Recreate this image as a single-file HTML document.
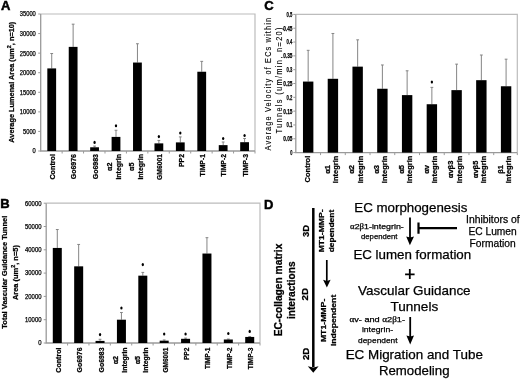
<!DOCTYPE html>
<html><head><meta charset="utf-8"><style>
html,body{margin:0;padding:0;background:#fff;width:520px;height:379px;overflow:hidden}
svg{display:block;font-family:"Liberation Sans",sans-serif;filter:grayscale(1)}
text{stroke:#000;stroke-width:0.25px}
</style></head><body>
<svg width="520" height="379" viewBox="0 0 520 379">
<rect width="520" height="379" fill="#fff"/>
<text x="1.1" y="10.4" font-size="13" font-weight="bold" text-anchor="start" fill="#000" style="stroke-width:0.5px">A</text>
<text x="0.2" y="208.4" font-size="13" font-weight="bold" text-anchor="start" fill="#000" style="stroke-width:0.5px">B</text>
<text x="264.3" y="10.2" font-size="13" font-weight="bold" text-anchor="start" fill="#000" style="stroke-width:0.5px">C</text>
<text x="263.9" y="208.6" font-size="13" font-weight="bold" text-anchor="start" fill="#000" style="stroke-width:0.5px">D</text>
<path d="M40.7 14H255V151" fill="none" stroke="#bcbcbc" stroke-width="1.2"/>
<path d="M40.7 14V151H255" fill="none" stroke="#9a9a9a" stroke-width="1.3"/>
<path d="M38.2 151H40.7" stroke="#9a9a9a" stroke-width="1"/>
<text x="35.8" y="153.38" font-size="6.6" font-weight="normal" text-anchor="end" fill="#000" textLength="3.2" lengthAdjust="spacingAndGlyphs">0</text>
<path d="M38.2 131.43H40.7" stroke="#9a9a9a" stroke-width="1"/>
<text x="35.8" y="133.8" font-size="6.6" font-weight="normal" text-anchor="end" fill="#000" textLength="12.8" lengthAdjust="spacingAndGlyphs">5000</text>
<path d="M38.2 111.86H40.7" stroke="#9a9a9a" stroke-width="1"/>
<text x="35.8" y="114.23" font-size="6.6" font-weight="normal" text-anchor="end" fill="#000" textLength="16" lengthAdjust="spacingAndGlyphs">10000</text>
<path d="M38.2 92.29H40.7" stroke="#9a9a9a" stroke-width="1"/>
<text x="35.8" y="94.66" font-size="6.6" font-weight="normal" text-anchor="end" fill="#000" textLength="16" lengthAdjust="spacingAndGlyphs">15000</text>
<path d="M38.2 72.71H40.7" stroke="#9a9a9a" stroke-width="1"/>
<text x="35.8" y="75.09" font-size="6.6" font-weight="normal" text-anchor="end" fill="#000" textLength="16" lengthAdjust="spacingAndGlyphs">20000</text>
<path d="M38.2 53.14H40.7" stroke="#9a9a9a" stroke-width="1"/>
<text x="35.8" y="55.52" font-size="6.6" font-weight="normal" text-anchor="end" fill="#000" textLength="16" lengthAdjust="spacingAndGlyphs">25000</text>
<path d="M38.2 33.57H40.7" stroke="#9a9a9a" stroke-width="1"/>
<text x="35.8" y="35.95" font-size="6.6" font-weight="normal" text-anchor="end" fill="#000" textLength="16" lengthAdjust="spacingAndGlyphs">30000</text>
<path d="M38.2 14H40.7" stroke="#9a9a9a" stroke-width="1"/>
<text x="35.8" y="16.38" font-size="6.6" font-weight="normal" text-anchor="end" fill="#000" textLength="16" lengthAdjust="spacingAndGlyphs">35000</text>
<path d="M62.13 151V153.5" stroke="#9a9a9a" stroke-width="1"/>
<path d="M83.56 151V153.5" stroke="#9a9a9a" stroke-width="1"/>
<path d="M104.99 151V153.5" stroke="#9a9a9a" stroke-width="1"/>
<path d="M126.42 151V153.5" stroke="#9a9a9a" stroke-width="1"/>
<path d="M147.85 151V153.5" stroke="#9a9a9a" stroke-width="1"/>
<path d="M169.28 151V153.5" stroke="#9a9a9a" stroke-width="1"/>
<path d="M190.71 151V153.5" stroke="#9a9a9a" stroke-width="1"/>
<path d="M212.14 151V153.5" stroke="#9a9a9a" stroke-width="1"/>
<path d="M233.57 151V153.5" stroke="#9a9a9a" stroke-width="1"/>
<path d="M255 151V153.5" stroke="#9a9a9a" stroke-width="1"/>
<path d="M51.72 68.41V53.53M50.32 53.53H53.12" stroke="#858585" stroke-width="1"/>
<rect x="47.32" y="68.41" width="8.8" height="82.59" fill="#000"/>
<path d="M73.14 46.88V24.18M71.74 24.18H74.55" stroke="#858585" stroke-width="1"/>
<rect x="68.74" y="46.88" width="8.8" height="104.12" fill="#000"/>
<path d="M94.58 147.28V146.11M93.17 146.11H95.98" stroke="#858585" stroke-width="1"/>
<rect x="90.17" y="147.28" width="8.8" height="3.72" fill="#000"/>
<path d="M116 136.91V130.25M114.6 130.25H117.41" stroke="#858585" stroke-width="1"/>
<rect x="111.6" y="136.91" width="8.8" height="14.09" fill="#000"/>
<path d="M137.44 62.54V43.75M136.03 43.75H138.84" stroke="#858585" stroke-width="1"/>
<rect x="133.03" y="62.54" width="8.8" height="88.46" fill="#000"/>
<path d="M158.87 143.37V140.43M157.47 140.43H160.27" stroke="#858585" stroke-width="1"/>
<rect x="154.47" y="143.37" width="8.8" height="7.63" fill="#000"/>
<path d="M180.3 142.39V136.91M178.9 136.91H181.7" stroke="#858585" stroke-width="1"/>
<rect x="175.9" y="142.39" width="8.8" height="8.61" fill="#000"/>
<path d="M201.73 71.74V61.36M200.33 61.36H203.13" stroke="#858585" stroke-width="1"/>
<rect x="197.33" y="71.74" width="8.8" height="79.26" fill="#000"/>
<path d="M223.16 145.13V142M221.76 142H224.56" stroke="#858585" stroke-width="1"/>
<rect x="218.76" y="145.13" width="8.8" height="5.87" fill="#000"/>
<path d="M244.59 142.19V138.47M243.19 138.47H245.99" stroke="#858585" stroke-width="1"/>
<rect x="240.19" y="142.19" width="8.8" height="8.81" fill="#000"/>
<ellipse cx="94.58" cy="142.4" rx="1.15" ry="1.55" fill="#000"/>
<ellipse cx="116" cy="125.8" rx="1.15" ry="1.55" fill="#000"/>
<ellipse cx="158.87" cy="136.6" rx="1.15" ry="1.55" fill="#000"/>
<ellipse cx="180.3" cy="133" rx="1.15" ry="1.55" fill="#000"/>
<ellipse cx="223.16" cy="138.5" rx="1.15" ry="1.55" fill="#000"/>
<ellipse cx="244.59" cy="135.5" rx="1.15" ry="1.55" fill="#000"/>
<text x="54.92" y="166.8" font-size="7.2" font-weight="bold" text-anchor="middle" fill="#000" transform="rotate(-90 54.92 166.8)">Control</text>
<text x="76.34" y="166.65" font-size="7.2" font-weight="bold" text-anchor="middle" fill="#000" transform="rotate(-90 76.34 166.65)" textLength="25.3" lengthAdjust="spacingAndGlyphs">Go6976</text>
<text x="97.78" y="166.65" font-size="7.2" font-weight="bold" text-anchor="middle" fill="#000" transform="rotate(-90 97.78 166.65)" textLength="25.3" lengthAdjust="spacingAndGlyphs">Go6983</text>
<text x="112.5" y="166.8" font-size="7.2" font-weight="bold" text-anchor="middle" fill="#000" transform="rotate(-90 112.5 166.8)">&#945;2</text>
<text x="121.1" y="166.8" font-size="7.2" font-weight="bold" text-anchor="middle" fill="#000" transform="rotate(-90 121.1 166.8)" textLength="25.6" lengthAdjust="spacingAndGlyphs">integrin</text>
<text x="133.93" y="166.8" font-size="7.2" font-weight="bold" text-anchor="middle" fill="#000" transform="rotate(-90 133.93 166.8)">&#945;5</text>
<text x="142.53" y="166.8" font-size="7.2" font-weight="bold" text-anchor="middle" fill="#000" transform="rotate(-90 142.53 166.8)" textLength="25.6" lengthAdjust="spacingAndGlyphs">integrin</text>
<text x="162.06" y="166.95" font-size="7.2" font-weight="bold" text-anchor="middle" fill="#000" transform="rotate(-90 162.06 166.95)" textLength="25.9" lengthAdjust="spacingAndGlyphs">GM6001</text>
<text x="183.5" y="160.5" font-size="7.2" font-weight="bold" text-anchor="middle" fill="#000" transform="rotate(-90 183.5 160.5)" textLength="13" lengthAdjust="spacingAndGlyphs">PP2</text>
<text x="204.93" y="165.2" font-size="7.2" font-weight="bold" text-anchor="middle" fill="#000" transform="rotate(-90 204.93 165.2)" textLength="22.4" lengthAdjust="spacingAndGlyphs">TIMP-1</text>
<text x="226.36" y="165.2" font-size="7.2" font-weight="bold" text-anchor="middle" fill="#000" transform="rotate(-90 226.36 165.2)" textLength="22.4" lengthAdjust="spacingAndGlyphs">TIMP-2</text>
<text x="247.79" y="165.3" font-size="7.2" font-weight="bold" text-anchor="middle" fill="#000" transform="rotate(-90 247.79 165.3)" textLength="22.6" lengthAdjust="spacingAndGlyphs">TIMP-3</text>
<text transform="translate(14.2 82.2) rotate(-90)" font-size="7.5" font-weight="bold" text-anchor="middle" textLength="121" lengthAdjust="spacingAndGlyphs">Average Lumenal Area (um<tspan font-size="5.5" dy="-3">2</tspan><tspan dy="3">, n=10)</tspan></text>
<path d="M46.2 203.2H260V343" fill="none" stroke="#bcbcbc" stroke-width="1.2"/>
<path d="M46.2 203.2V343H260" fill="none" stroke="#9a9a9a" stroke-width="1.3"/>
<path d="M43.7 343H46.2" stroke="#9a9a9a" stroke-width="1"/>
<text x="41.5" y="345.38" font-size="6.6" font-weight="normal" text-anchor="end" fill="#000" textLength="3.3" lengthAdjust="spacingAndGlyphs">0</text>
<path d="M43.7 319.7H46.2" stroke="#9a9a9a" stroke-width="1"/>
<text x="41.5" y="322.08" font-size="6.6" font-weight="normal" text-anchor="end" fill="#000" textLength="16.5" lengthAdjust="spacingAndGlyphs">10000</text>
<path d="M43.7 296.4H46.2" stroke="#9a9a9a" stroke-width="1"/>
<text x="41.5" y="298.78" font-size="6.6" font-weight="normal" text-anchor="end" fill="#000" textLength="16.5" lengthAdjust="spacingAndGlyphs">20000</text>
<path d="M43.7 273.1H46.2" stroke="#9a9a9a" stroke-width="1"/>
<text x="41.5" y="275.48" font-size="6.6" font-weight="normal" text-anchor="end" fill="#000" textLength="16.5" lengthAdjust="spacingAndGlyphs">30000</text>
<path d="M43.7 249.8H46.2" stroke="#9a9a9a" stroke-width="1"/>
<text x="41.5" y="252.18" font-size="6.6" font-weight="normal" text-anchor="end" fill="#000" textLength="16.5" lengthAdjust="spacingAndGlyphs">40000</text>
<path d="M43.7 226.5H46.2" stroke="#9a9a9a" stroke-width="1"/>
<text x="41.5" y="228.88" font-size="6.6" font-weight="normal" text-anchor="end" fill="#000" textLength="16.5" lengthAdjust="spacingAndGlyphs">50000</text>
<path d="M43.7 203.2H46.2" stroke="#9a9a9a" stroke-width="1"/>
<text x="41.5" y="205.58" font-size="6.6" font-weight="normal" text-anchor="end" fill="#000" textLength="16.5" lengthAdjust="spacingAndGlyphs">60000</text>
<path d="M67.58 343V345.5" stroke="#9a9a9a" stroke-width="1"/>
<path d="M88.96 343V345.5" stroke="#9a9a9a" stroke-width="1"/>
<path d="M110.34 343V345.5" stroke="#9a9a9a" stroke-width="1"/>
<path d="M131.72 343V345.5" stroke="#9a9a9a" stroke-width="1"/>
<path d="M153.1 343V345.5" stroke="#9a9a9a" stroke-width="1"/>
<path d="M174.48 343V345.5" stroke="#9a9a9a" stroke-width="1"/>
<path d="M195.86 343V345.5" stroke="#9a9a9a" stroke-width="1"/>
<path d="M217.24 343V345.5" stroke="#9a9a9a" stroke-width="1"/>
<path d="M238.62 343V345.5" stroke="#9a9a9a" stroke-width="1"/>
<path d="M260 343V345.5" stroke="#9a9a9a" stroke-width="1"/>
<path d="M57.29 247.94V229.53M55.89 229.53H58.69" stroke="#858585" stroke-width="1"/>
<rect x="52.79" y="247.94" width="9" height="95.06" fill="#000"/>
<path d="M78.67 266.34V244.44M77.27 244.44H80.07" stroke="#858585" stroke-width="1"/>
<rect x="74.17" y="266.34" width="9" height="76.66" fill="#000"/>
<path d="M100.05 340.9V339.27M98.65 339.27H101.45" stroke="#858585" stroke-width="1"/>
<rect x="95.55" y="340.9" width="9" height="2.1" fill="#000"/>
<path d="M121.43 319.7V312.48M120.03 312.48H122.83" stroke="#858585" stroke-width="1"/>
<rect x="116.93" y="319.7" width="9" height="23.3" fill="#000"/>
<path d="M142.81 275.66V272.4M141.41 272.4H144.21" stroke="#858585" stroke-width="1"/>
<rect x="138.31" y="275.66" width="9" height="67.34" fill="#000"/>
<path d="M164.19 340.67V339.97M162.79 339.97H165.59" stroke="#858585" stroke-width="1"/>
<rect x="159.69" y="340.67" width="9" height="2.33" fill="#000"/>
<path d="M185.57 338.81V338.11M184.17 338.11H186.97" stroke="#858585" stroke-width="1"/>
<rect x="181.07" y="338.81" width="9" height="4.19" fill="#000"/>
<path d="M206.95 253.53V237.68M205.55 237.68H208.35" stroke="#858585" stroke-width="1"/>
<rect x="202.45" y="253.53" width="9" height="89.47" fill="#000"/>
<path d="M228.33 339.5V339.04M226.93 339.04H229.73" stroke="#858585" stroke-width="1"/>
<rect x="223.83" y="339.5" width="9" height="3.5" fill="#000"/>
<path d="M249.71 336.94V336.48M248.31 336.48H251.11" stroke="#858585" stroke-width="1"/>
<rect x="245.21" y="336.94" width="9" height="6.06" fill="#000"/>
<ellipse cx="100.05" cy="334.6" rx="1.15" ry="1.55" fill="#000"/>
<ellipse cx="121.43" cy="308" rx="1.15" ry="1.55" fill="#000"/>
<ellipse cx="142.81" cy="264.6" rx="1.15" ry="1.55" fill="#000"/>
<ellipse cx="164.19" cy="334" rx="1.15" ry="1.55" fill="#000"/>
<ellipse cx="185.57" cy="334" rx="1.15" ry="1.55" fill="#000"/>
<ellipse cx="228.33" cy="333.5" rx="1.15" ry="1.55" fill="#000"/>
<ellipse cx="249.71" cy="331.4" rx="1.15" ry="1.55" fill="#000"/>
<text x="60.79" y="360.1" font-size="7.2" font-weight="bold" text-anchor="middle" fill="#000" transform="rotate(-90 60.79 360.1)" textLength="25.2" lengthAdjust="spacingAndGlyphs">Control</text>
<text x="82.17" y="359.95" font-size="7.2" font-weight="bold" text-anchor="middle" fill="#000" transform="rotate(-90 82.17 359.95)" textLength="24.9" lengthAdjust="spacingAndGlyphs">Go6976</text>
<text x="103.55" y="359.95" font-size="7.2" font-weight="bold" text-anchor="middle" fill="#000" transform="rotate(-90 103.55 359.95)" textLength="24.9" lengthAdjust="spacingAndGlyphs">Go6983</text>
<text x="118.38" y="360.1" font-size="7.2" font-weight="bold" text-anchor="middle" fill="#000" transform="rotate(-90 118.38 360.1)">&#945;2</text>
<text x="126.58" y="360.1" font-size="7.2" font-weight="bold" text-anchor="middle" fill="#000" transform="rotate(-90 126.58 360.1)" textLength="25.2" lengthAdjust="spacingAndGlyphs">integrin</text>
<text x="139.76" y="360.1" font-size="7.2" font-weight="bold" text-anchor="middle" fill="#000" transform="rotate(-90 139.76 360.1)">&#945;5</text>
<text x="147.96" y="360.1" font-size="7.2" font-weight="bold" text-anchor="middle" fill="#000" transform="rotate(-90 147.96 360.1)" textLength="25.2" lengthAdjust="spacingAndGlyphs">integrin</text>
<text x="167.69" y="360" font-size="7.2" font-weight="bold" text-anchor="middle" fill="#000" transform="rotate(-90 167.69 360)" textLength="25" lengthAdjust="spacingAndGlyphs">GM6001</text>
<text x="189.07" y="353.8" font-size="7.2" font-weight="bold" text-anchor="middle" fill="#000" transform="rotate(-90 189.07 353.8)" textLength="12.6" lengthAdjust="spacingAndGlyphs">PP2</text>
<text x="210.45" y="358.3" font-size="7.2" font-weight="bold" text-anchor="middle" fill="#000" transform="rotate(-90 210.45 358.3)" textLength="21.6" lengthAdjust="spacingAndGlyphs">TIMP-1</text>
<text x="231.83" y="358.3" font-size="7.2" font-weight="bold" text-anchor="middle" fill="#000" transform="rotate(-90 231.83 358.3)" textLength="21.6" lengthAdjust="spacingAndGlyphs">TIMP-2</text>
<text x="253.21" y="358.4" font-size="7.2" font-weight="bold" text-anchor="middle" fill="#000" transform="rotate(-90 253.21 358.4)" textLength="21.8" lengthAdjust="spacingAndGlyphs">TIMP-3</text>
<text transform="translate(6.6 272.2) rotate(-90)" font-size="7.6" font-weight="bold" text-anchor="middle" textLength="113" lengthAdjust="spacingAndGlyphs">Total Vascular Guidance Tunnel</text>
<text transform="translate(18.0 272.6) rotate(-90)" font-size="7.6" font-weight="bold" text-anchor="middle" textLength="55" lengthAdjust="spacingAndGlyphs">Area (um<tspan font-size="5.5" dy="-3">2</tspan><tspan dy="3">, n=5)</tspan></text>
<path d="M295.8 14.4H517.3V152.6" fill="none" stroke="#bcbcbc" stroke-width="1.2"/>
<path d="M295.8 14.4V152.6H517.3" fill="none" stroke="#9a9a9a" stroke-width="1.3"/>
<path d="M293.3 152.6H295.8" stroke="#9a9a9a" stroke-width="1"/>
<text x="292.4" y="155.05" font-size="6.8" font-weight="bold" text-anchor="end" fill="#000" textLength="2.2" lengthAdjust="spacingAndGlyphs">0</text>
<path d="M293.3 138.78H295.8" stroke="#9a9a9a" stroke-width="1"/>
<text x="292.4" y="141.23" font-size="6.8" font-weight="bold" text-anchor="end" fill="#000" textLength="9.2" lengthAdjust="spacingAndGlyphs">0.05</text>
<path d="M293.3 124.96H295.8" stroke="#9a9a9a" stroke-width="1"/>
<text x="292.4" y="127.41" font-size="6.8" font-weight="bold" text-anchor="end" fill="#000" textLength="5.8" lengthAdjust="spacingAndGlyphs">0.1</text>
<path d="M293.3 111.14H295.8" stroke="#9a9a9a" stroke-width="1"/>
<text x="292.4" y="113.59" font-size="6.8" font-weight="bold" text-anchor="end" fill="#000" textLength="9.2" lengthAdjust="spacingAndGlyphs">0.15</text>
<path d="M293.3 97.32H295.8" stroke="#9a9a9a" stroke-width="1"/>
<text x="292.4" y="99.77" font-size="6.8" font-weight="bold" text-anchor="end" fill="#000" textLength="5.8" lengthAdjust="spacingAndGlyphs">0.2</text>
<path d="M293.3 83.5H295.8" stroke="#9a9a9a" stroke-width="1"/>
<text x="292.4" y="85.95" font-size="6.8" font-weight="bold" text-anchor="end" fill="#000" textLength="9.2" lengthAdjust="spacingAndGlyphs">0.25</text>
<path d="M293.3 69.68H295.8" stroke="#9a9a9a" stroke-width="1"/>
<text x="292.4" y="72.13" font-size="6.8" font-weight="bold" text-anchor="end" fill="#000" textLength="5.8" lengthAdjust="spacingAndGlyphs">0.3</text>
<path d="M293.3 55.86H295.8" stroke="#9a9a9a" stroke-width="1"/>
<text x="292.4" y="58.31" font-size="6.8" font-weight="bold" text-anchor="end" fill="#000" textLength="9.2" lengthAdjust="spacingAndGlyphs">0.35</text>
<path d="M293.3 42.04H295.8" stroke="#9a9a9a" stroke-width="1"/>
<text x="292.4" y="44.49" font-size="6.8" font-weight="bold" text-anchor="end" fill="#000" textLength="5.8" lengthAdjust="spacingAndGlyphs">0.4</text>
<path d="M293.3 28.22H295.8" stroke="#9a9a9a" stroke-width="1"/>
<text x="292.4" y="30.67" font-size="6.8" font-weight="bold" text-anchor="end" fill="#000" textLength="9.2" lengthAdjust="spacingAndGlyphs">0.45</text>
<path d="M293.3 14.4H295.8" stroke="#9a9a9a" stroke-width="1"/>
<text x="292.4" y="16.85" font-size="6.8" font-weight="bold" text-anchor="end" fill="#000" textLength="5.8" lengthAdjust="spacingAndGlyphs">0.5</text>
<path d="M320.54 152.6V155.1" stroke="#9a9a9a" stroke-width="1"/>
<path d="M345.28 152.6V155.1" stroke="#9a9a9a" stroke-width="1"/>
<path d="M370.02 152.6V155.1" stroke="#9a9a9a" stroke-width="1"/>
<path d="M394.76 152.6V155.1" stroke="#9a9a9a" stroke-width="1"/>
<path d="M419.5 152.6V155.1" stroke="#9a9a9a" stroke-width="1"/>
<path d="M444.24 152.6V155.1" stroke="#9a9a9a" stroke-width="1"/>
<path d="M468.98 152.6V155.1" stroke="#9a9a9a" stroke-width="1"/>
<path d="M493.72 152.6V155.1" stroke="#9a9a9a" stroke-width="1"/>
<path d="M517.3 152.6V155.1" stroke="#9a9a9a" stroke-width="1"/>
<path d="M308.17 81.57V50.33M306.77 50.33H309.57" stroke="#858585" stroke-width="1"/>
<rect x="302.97" y="81.57" width="10.4" height="71.03" fill="#000"/>
<path d="M332.91 78.8V33.47M331.51 33.47H334.31" stroke="#858585" stroke-width="1"/>
<rect x="327.71" y="78.8" width="10.4" height="73.8" fill="#000"/>
<path d="M357.65 66.64V39.83M356.25 39.83H359.05" stroke="#858585" stroke-width="1"/>
<rect x="352.45" y="66.64" width="10.4" height="85.96" fill="#000"/>
<path d="M382.39 88.75V64.98M380.99 64.98H383.79" stroke="#858585" stroke-width="1"/>
<rect x="377.19" y="88.75" width="10.4" height="63.85" fill="#000"/>
<path d="M407.13 95.11V70.79M405.73 70.79H408.53" stroke="#858585" stroke-width="1"/>
<rect x="401.93" y="95.11" width="10.4" height="57.49" fill="#000"/>
<path d="M431.87 104.23V87.37M430.47 87.37H433.27" stroke="#858585" stroke-width="1"/>
<rect x="426.67" y="104.23" width="10.4" height="48.37" fill="#000"/>
<path d="M456.61 90.13V64.15M455.21 64.15H458.01" stroke="#858585" stroke-width="1"/>
<rect x="451.41" y="90.13" width="10.4" height="62.47" fill="#000"/>
<path d="M481.35 80.18V55.03M479.95 55.03H482.75" stroke="#858585" stroke-width="1"/>
<rect x="476.15" y="80.18" width="10.4" height="72.42" fill="#000"/>
<path d="M506.09 86.26V59.18M504.69 59.18H507.49" stroke="#858585" stroke-width="1"/>
<rect x="500.89" y="86.26" width="10.4" height="66.34" fill="#000"/>
<ellipse cx="431.87" cy="82" rx="1.15" ry="1.55" fill="#000"/>
<text x="310.27" y="169.03" font-size="7.5" font-weight="bold" text-anchor="middle" fill="#000" transform="rotate(-90 310.27 169.03)">Control</text>
<text x="329.76" y="169.45" font-size="7.5" font-weight="bold" text-anchor="middle" fill="#000" transform="rotate(-90 329.76 169.45)">&#945;1</text>
<text x="337.96" y="169.45" font-size="7.5" font-weight="bold" text-anchor="middle" fill="#000" transform="rotate(-90 337.96 169.45)">integrin</text>
<text x="354.5" y="169.45" font-size="7.5" font-weight="bold" text-anchor="middle" fill="#000" transform="rotate(-90 354.5 169.45)">&#945;2</text>
<text x="362.7" y="169.45" font-size="7.5" font-weight="bold" text-anchor="middle" fill="#000" transform="rotate(-90 362.7 169.45)">integrin</text>
<text x="379.24" y="169.45" font-size="7.5" font-weight="bold" text-anchor="middle" fill="#000" transform="rotate(-90 379.24 169.45)">&#945;3</text>
<text x="387.44" y="169.45" font-size="7.5" font-weight="bold" text-anchor="middle" fill="#000" transform="rotate(-90 387.44 169.45)">integrin</text>
<text x="403.98" y="169.45" font-size="7.5" font-weight="bold" text-anchor="middle" fill="#000" transform="rotate(-90 403.98 169.45)">&#945;5</text>
<text x="412.18" y="169.45" font-size="7.5" font-weight="bold" text-anchor="middle" fill="#000" transform="rotate(-90 412.18 169.45)">integrin</text>
<text x="428.72" y="169.45" font-size="7.5" font-weight="bold" text-anchor="middle" fill="#000" transform="rotate(-90 428.72 169.45)">&#945;v</text>
<text x="436.92" y="169.45" font-size="7.5" font-weight="bold" text-anchor="middle" fill="#000" transform="rotate(-90 436.92 169.45)">integrin</text>
<text x="453.46" y="169.45" font-size="7.5" font-weight="bold" text-anchor="middle" fill="#000" transform="rotate(-90 453.46 169.45)">&#945;v&#946;3</text>
<text x="461.66" y="169.45" font-size="7.5" font-weight="bold" text-anchor="middle" fill="#000" transform="rotate(-90 461.66 169.45)">integrin</text>
<text x="478.2" y="169.45" font-size="7.5" font-weight="bold" text-anchor="middle" fill="#000" transform="rotate(-90 478.2 169.45)">&#945;v&#946;5</text>
<text x="486.4" y="169.45" font-size="7.5" font-weight="bold" text-anchor="middle" fill="#000" transform="rotate(-90 486.4 169.45)">integrin</text>
<text x="502.94" y="169.45" font-size="7.5" font-weight="bold" text-anchor="middle" fill="#000" transform="rotate(-90 502.94 169.45)">&#946;1</text>
<text x="511.14" y="169.45" font-size="7.5" font-weight="bold" text-anchor="middle" fill="#000" transform="rotate(-90 511.14 169.45)">integrin</text>
<text transform="translate(271.4 84.2) rotate(-90) scale(0.82 1)" font-size="9" text-anchor="middle" textLength="161.7" lengthAdjust="spacing" style="stroke-width:0.1px">Average Velocity of ECs within</text>
<text transform="translate(281.6 80.5) rotate(-90) scale(0.82 1)" font-size="9" text-anchor="middle" textLength="129.3" lengthAdjust="spacing" style="stroke-width:0.1px">Tunnels (um/min, n=20)</text>
<path d="M313.3 208V367" stroke="#000" stroke-width="2.5"/>
<path d="M307.8 366.2L313.3 367.6L318.6 366.2L313.3 372.8Z" fill="#000"/>
<path d="M326.8 260V281" stroke="#000" stroke-width="1.7"/>
<path d="M323.1 279.7L326.85 281L330.6 279.7L326.85 287.6Z" fill="#000"/>
<text x="308.6" y="231" font-size="9.4" font-weight="bold" text-anchor="middle" fill="#000" transform="rotate(-90 308.6 231)" textLength="12" lengthAdjust="spacingAndGlyphs">3D</text>
<text x="308.4" y="294.2" font-size="9.4" font-weight="bold" text-anchor="middle" fill="#000" transform="rotate(-90 308.4 294.2)" textLength="12.4" lengthAdjust="spacingAndGlyphs">2D</text>
<text x="308.6" y="353.9" font-size="9.4" font-weight="bold" text-anchor="middle" fill="#000" transform="rotate(-90 308.6 353.9)" textLength="12.3" lengthAdjust="spacingAndGlyphs">2D</text>
<text x="324.1" y="230.9" font-size="7.7" font-weight="bold" text-anchor="middle" fill="#000" transform="rotate(-90 324.1 230.9)" textLength="42.8" lengthAdjust="spacingAndGlyphs">MT1-MMP-</text>
<text x="334.4" y="231" font-size="7.7" font-weight="bold" text-anchor="middle" fill="#000" transform="rotate(-90 334.4 231)" textLength="42.5" lengthAdjust="spacingAndGlyphs">dependent</text>
<text x="325.8" y="320.4" font-size="7.7" font-weight="bold" text-anchor="middle" fill="#000" transform="rotate(-90 325.8 320.4)" textLength="43.4" lengthAdjust="spacingAndGlyphs">MT1-MMP-</text>
<text x="336.4" y="320.4" font-size="7.7" font-weight="bold" text-anchor="middle" fill="#000" transform="rotate(-90 336.4 320.4)" textLength="51.4" lengthAdjust="spacingAndGlyphs">independent</text>
<text x="281.8" y="290" font-size="10.2" font-weight="bold" text-anchor="middle" fill="#000" transform="rotate(-90 281.8 290)" textLength="92.7" lengthAdjust="spacingAndGlyphs">EC-collagen matrix</text>
<text x="295.3" y="290.2" font-size="10.2" font-weight="bold" text-anchor="middle" fill="#000" transform="rotate(-90 295.3 290.2)" textLength="57.7" lengthAdjust="spacingAndGlyphs">interactions</text>
<text x="410.9" y="212.4" font-size="12.8" font-weight="normal" text-anchor="middle" fill="#000" textLength="113.2" lengthAdjust="spacingAndGlyphs">EC morphogenesis</text>
<text x="376.9" y="228.75" font-size="7.6" font-weight="normal" text-anchor="middle" fill="#000" textLength="53.75" lengthAdjust="spacingAndGlyphs"><tspan font-family="Liberation Serif">&#945;</tspan>2<tspan font-family="Liberation Serif">&#946;</tspan>1-integrin-</text>
<text x="379.25" y="238.75" font-size="7.6" font-weight="normal" text-anchor="middle" fill="#000" textLength="36.5" lengthAdjust="spacingAndGlyphs">dependent</text>
<path d="M410 217.5V238" stroke="#000" stroke-width="1.8"/>
<path d="M406.2 236.5L410 237.5L414 236.5L409.9 245.3Z" fill="#000"/>
<path d="M418.5 222.5V233.8M418.5 228.2H457" stroke="#000" stroke-width="2.2"/>
<text x="492.85" y="222.5" font-size="10.4" font-weight="normal" text-anchor="middle" fill="#000" textLength="53.6" lengthAdjust="spacingAndGlyphs">Inhibitors of</text>
<text x="492.6" y="234.8" font-size="10.4" font-weight="normal" text-anchor="middle" fill="#000" textLength="48.3" lengthAdjust="spacingAndGlyphs">EC Lumen</text>
<text x="492.6" y="247.1" font-size="10.4" font-weight="normal" text-anchor="middle" fill="#000" textLength="46.1" lengthAdjust="spacingAndGlyphs">Formation</text>
<text x="412.3" y="259.1" font-size="12.8" font-weight="normal" text-anchor="middle" fill="#000" textLength="117.8" lengthAdjust="spacingAndGlyphs">EC lumen formation</text>
<path d="M409.8 269V279.1M405.1 274.4H414.6" stroke="#000" stroke-width="1.8"/>
<text x="414.35" y="294.5" font-size="12.8" font-weight="normal" text-anchor="middle" fill="#000" textLength="112.5" lengthAdjust="spacingAndGlyphs">Vascular Guidance</text>
<text x="414.3" y="310.8" font-size="12.8" font-weight="normal" text-anchor="middle" fill="#000" textLength="47.8" lengthAdjust="spacingAndGlyphs">Tunnels</text>
<text x="377.2" y="322" font-size="7.6" font-weight="normal" text-anchor="middle" fill="#000" textLength="55.6" lengthAdjust="spacingAndGlyphs"><tspan font-family="Liberation Serif">&#945;</tspan>v- and <tspan font-family="Liberation Serif">&#945;</tspan>2<tspan font-family="Liberation Serif">&#946;</tspan>1-</text>
<text x="377.5" y="332" font-size="7.6" font-weight="normal" text-anchor="middle" fill="#000" textLength="31.2" lengthAdjust="spacingAndGlyphs">integrin-</text>
<text x="377.8" y="342.6" font-size="7.6" font-weight="normal" text-anchor="middle" fill="#000" textLength="39.4" lengthAdjust="spacingAndGlyphs">dependent</text>
<path d="M410.2 317V337" stroke="#000" stroke-width="1.8"/>
<path d="M406.4 335.5L410.2 336.5L414 335.5L410.2 344.6Z" fill="#000"/>
<text x="414.25" y="359.2" font-size="12.8" font-weight="normal" text-anchor="middle" fill="#000" textLength="137.2" lengthAdjust="spacingAndGlyphs">EC Migration and Tube</text>
<text x="414.2" y="375" font-size="12.8" font-weight="normal" text-anchor="middle" fill="#000" textLength="70.6" lengthAdjust="spacingAndGlyphs">Remodeling</text>
</svg>
</body></html>
